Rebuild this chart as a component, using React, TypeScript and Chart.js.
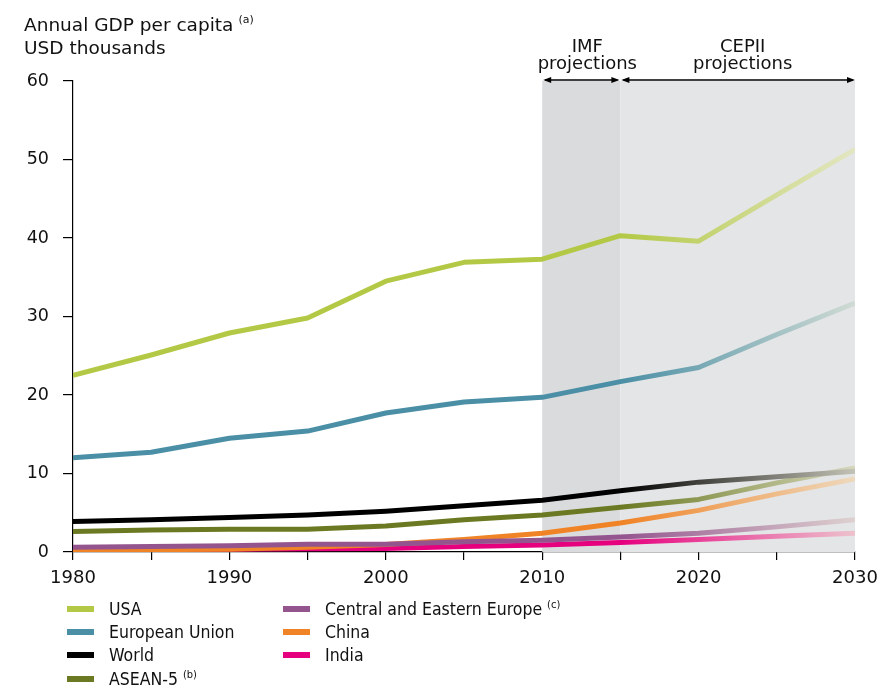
import React, { useEffect, useRef } from "react";
import { Chart, registerables } from "chart.js";
Chart.register(...registerables);

const years = [1980, 1985, 1990, 1995, 2000, 2005, 2010, 2015, 2020, 2025, 2030];
const usa = [22.5, 25.1, 27.9, 29.8, 34.5, 36.9, 37.3, 40.3, 39.6, 45.5, 51.3];
const eu = [12.0, 12.7, 14.5, 15.4, 17.7, 19.1, 19.7, 21.7, 23.5, 27.7, 31.7];
const world = [3.9, 4.1, 4.4, 4.7, 5.2, 5.9, 6.6, 7.8, 8.9, 9.6, 10.3];
const asean = [2.6, 2.8, 2.9, 2.9, 3.3, 4.1, 4.7, 5.7, 6.7, 8.8, 10.7];
const cee = [0.6, 0.7, 0.8, 1.0, 1.0, 1.3, 1.5, 1.9, 2.4, 3.2, 4.1];
const china = [0.2, 0.3, 0.35, 0.6, 0.95, 1.6, 2.4, 3.7, 5.3, 7.4, 9.3];
const india = [0.25, 0.3, 0.35, 0.4, 0.45, 0.7, 0.9, 1.2, 1.6, 2.0, 2.4];
const yTicks = [0, 10, 20, 30, 40, 50, 60];

const series = [
  { label: "USA", data: usa, color: "#b3c945", sup: "" },
  { label: "European Union", data: eu, color: "#4a8fa5", sup: "" },
  { label: "World", data: world, color: "#000000", sup: "" },
  { label: "ASEAN-5", data: asean, color: "#6b7a22", sup: "(b)" },
  { label: "Central and Eastern Europe", data: cee, color: "#94558e", sup: "(c)" },
  { label: "China", data: china, color: "#f08326", sup: "" },
  { label: "India", data: india, color: "#e6007e", sup: "" },
];

const FONT = "'DejaVu Sans', Verdana, sans-serif";
const FONT_COND = "'DejaVu Sans Condensed', 'DejaVu Sans', sans-serif";

function hexToRgb(h: string) {
  const n = parseInt(h.slice(1), 16);
  return [(n >> 16) & 255, (n >> 8) & 255, n & 255];
}
function fadeColor(h: string) {
  const [r, g, b] = hexToRgb(h);
  const t = 0.82;
  const pr = 238, pg = 236, pb = 222;
  return `rgb(${Math.round(r + (pr - r) * t)},${Math.round(g + (pg - g) * t)},${Math.round(b + (pb - b) * t)})`;
}

const shadePlugin = {
  id: "shade",
  beforeDatasetsDraw(chart: any) {
    const { ctx, chartArea, scales } = chart;
    const x = scales.x;
    const x10 = x.getPixelForValue(2010);
    const x15 = x.getPixelForValue(2015);
    const x30 = x.getPixelForValue(2030);
    ctx.save();
    ctx.fillStyle = "#dadbdd";
    ctx.fillRect(x10, chartArea.top, x15 - x10, chartArea.bottom - chartArea.top);
    ctx.fillStyle = "#e4e5e7";
    ctx.fillRect(x15, chartArea.top, x30 - x15, chartArea.bottom - chartArea.top);
    ctx.restore();
  },
  afterDraw(chart: any) {
    const { ctx, chartArea, scales } = chart;
    const x = scales.x;
    const x10 = x.getPixelForValue(2010);
    const x15 = x.getPixelForValue(2015);
    const x30 = x.getPixelForValue(2030);
    const y = chartArea.top - 1;
    const arrow = (a: number, b: number) => {
      ctx.beginPath();
      ctx.moveTo(a + 2, y);
      ctx.lineTo(b - 2, y);
      ctx.stroke();
      ctx.beginPath();
      ctx.moveTo(a, y);
      ctx.lineTo(a + 8, y - 3);
      ctx.lineTo(a + 8, y + 3);
      ctx.closePath();
      ctx.fill();
      ctx.beginPath();
      ctx.moveTo(b, y);
      ctx.lineTo(b - 8, y - 3);
      ctx.lineTo(b - 8, y + 3);
      ctx.closePath();
      ctx.fill();
    };
    ctx.save();
    ctx.strokeStyle = "#000";
    ctx.fillStyle = "#000";
    ctx.lineWidth = 1.5;
    arrow(x10 + 1, x15 - 1);
    arrow(x15 + 1, x30);
    ctx.font = `18px ${FONT}`;
    ctx.textAlign = "center";
    ctx.textBaseline = "alphabetic";
    ctx.fillStyle = "#111";
    ctx.fillText("IMF", (x10 + x15) / 2 + 6, 52);
    ctx.fillText("projections", (x10 + x15) / 2 + 6, 69);
    ctx.fillText("CEPII", (x15 + x30) / 2 + 5, 52);
    ctx.fillText("projections", (x15 + x30) / 2 + 5, 69);
    ctx.restore();
  },
};

export default function App() {
  const ref = useRef<HTMLCanvasElement>(null);
  useEffect(() => {
    document.body.style.margin = "0";
    const gradCache: Record<string, any> = {};
    const chart = new Chart(ref.current!, {
      type: "line",
      data: {
        datasets: series.map((s) => ({
          label: s.label,
          data: years.map((yr, i) => ({ x: yr, y: s.data[i] })),
          borderWidth: 5,
          pointRadius: 0,
          tension: 0,
          borderCapStyle: "butt",
          borderJoinStyle: "round",
          borderColor: (c: any) => {
            const ch = c.chart;
            if (!ch.chartArea) return s.color;
            const xs = ch.scales.x;
            const a = xs.getPixelForValue(2015);
            const b = xs.getPixelForValue(2030);
            const key = s.label + a + b;
            if (!gradCache[key]) {
              const g = ch.ctx.createLinearGradient(a, 0, b, 0);
              g.addColorStop(0, s.color);
              g.addColorStop(1, fadeColor(s.color));
              gradCache[key] = g;
            }
            return gradCache[key];
          },
        })),
      },
      options: {
        animation: false,
        responsive: false,
        maintainAspectRatio: false,
        layout: { padding: { top: 81, right: 29, left: 0, bottom: 0 } },
        plugins: { legend: { display: false }, tooltip: { enabled: false } },
        scales: {
          x: {
            type: "linear",
            min: 1980,
            max: 2030,
            afterFit: (s: any) => { s.height = 134; s.paddingRight = 0; s.paddingLeft = 0; },
            afterBuildTicks: (s: any) => {
              s.ticks = years.map((v) => ({ value: v }));
            },
            ticks: {
              autoSkip: false,
              maxRotation: 0,
              padding: 8,
              color: "#111",
              font: { family: FONT, size: 18 },
              callback: (v: any) => (Number(v) % 10 === 0 ? String(v) : ""),
            },
            grid: { drawOnChartArea: false, drawTicks: true, tickLength: 8, color: "#000", lineWidth: 1.2 },
            border: { color: "#000", width: 1.2 },
          },
          y: {
            min: 0,
            max: 60,
            afterFit: (s: any) => { s.width = 73; },
            afterBuildTicks: (s: any) => {
              s.ticks = yTicks.map((v) => ({ value: v }));
            },
            ticks: {
              padding: 14,
              color: "#111",
              font: { family: FONT, size: 17.5 },
            },
            grid: { drawOnChartArea: false, drawTicks: true, tickLength: 10, color: "#000", lineWidth: 1.2 },
            border: { color: "#000", width: 1.2 },
          },
        },
      },
      plugins: [shadePlugin],
    } as any);
    return () => chart.destroy();
  }, []);

  const legendItem = (s: any) => (
    <div key={s.label} style={{ display: "flex", alignItems: "center", height: 23.3 }}>
      <span style={{ display: "inline-block", width: 27, height: 6, background: s.color, marginRight: 15 }} />
      <span>
        {s.label}
        {s.sup ? <sup style={{ fontSize: 11, marginLeft: 5, verticalAlign: 7 }}>{s.sup}</sup> : null}
      </span>
    </div>
  );

  return (
    <div style={{ position: "relative", width: 884, height: 686, fontFamily: FONT, color: "#111" }}>
      <canvas ref={ref} width={884} height={686} style={{ position: "absolute", left: 0, top: 0 }} />
      <div style={{ position: "absolute", left: 24, top: 8, lineHeight: "23px", fontSize: 18.5 }}>
        <div>
          Annual GDP per capita<sup style={{ fontSize: 11, marginLeft: 5, verticalAlign: 8 }}>(a)</sup>
        </div>
        <div>USD thousands</div>
      </div>
      <div style={{ position: "absolute", left: 67, top: 597, fontFamily: FONT_COND, fontSize: 17.5 }}>
        {series.slice(0, 4).map(legendItem)}
      </div>
      <div style={{ position: "absolute", left: 283, top: 597, fontFamily: FONT_COND, fontSize: 17.5 }}>
        {series.slice(4).map(legendItem)}
      </div>
    </div>
  );
}
